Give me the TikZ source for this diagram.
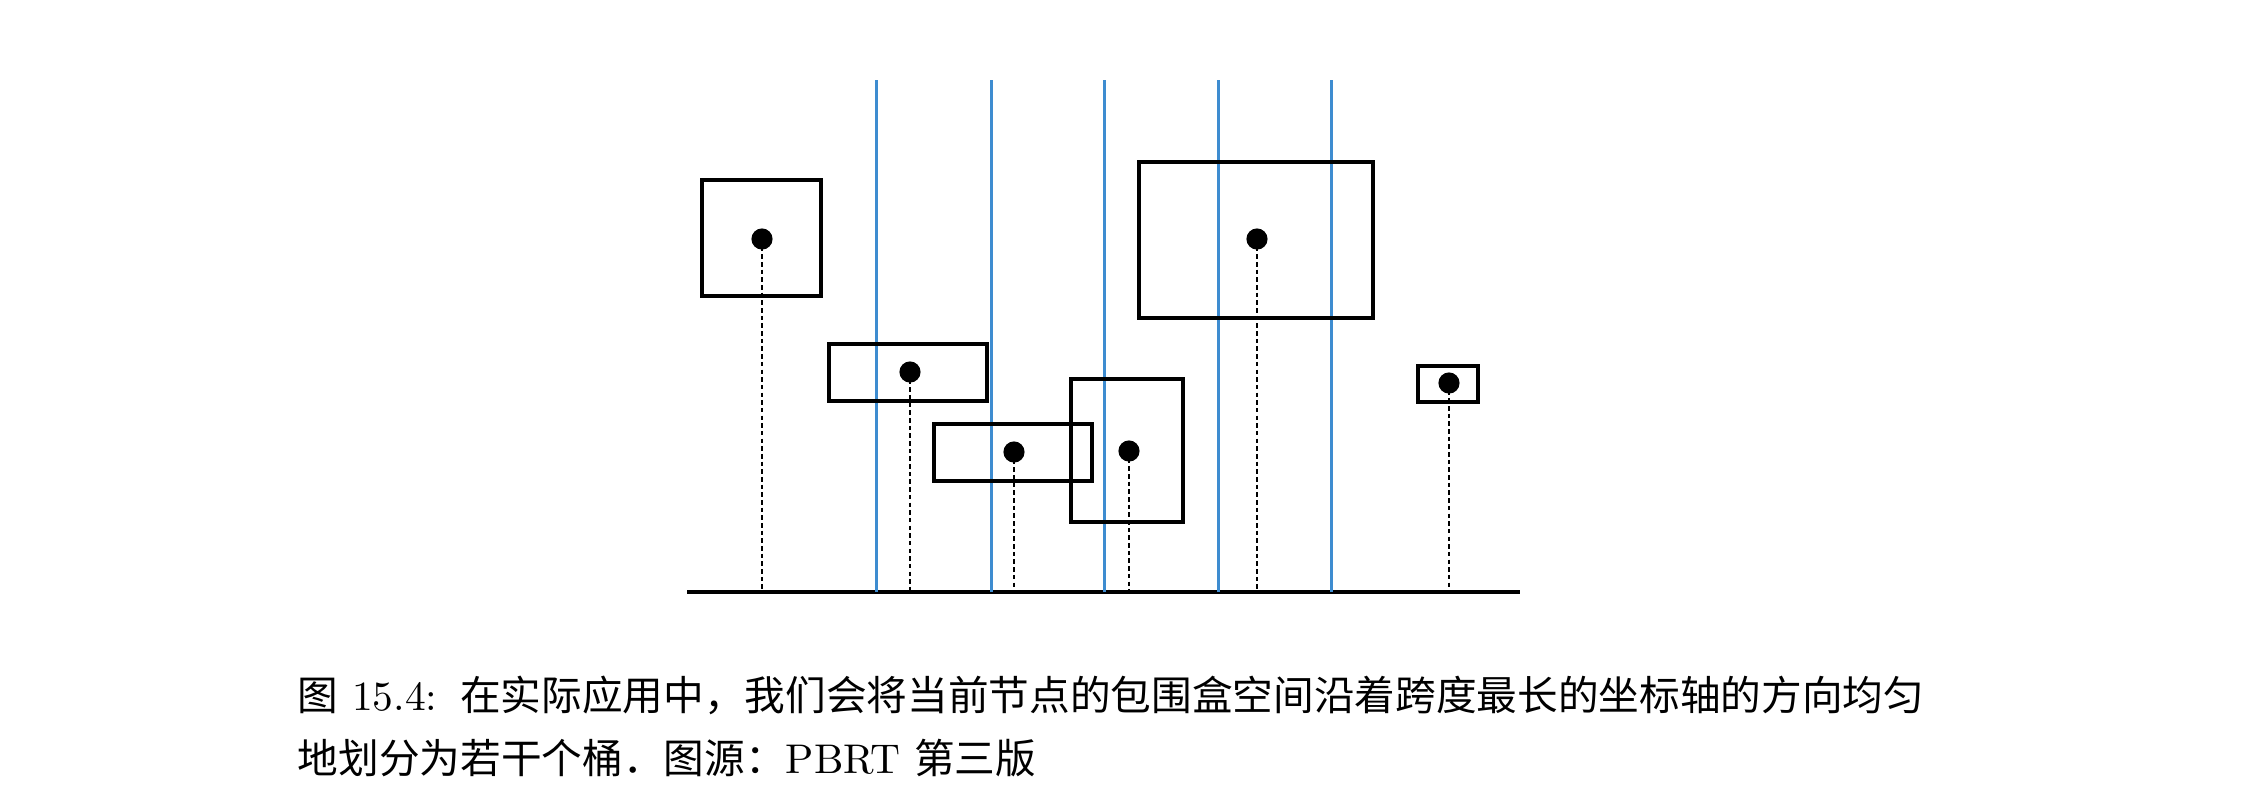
\documentclass[tikz,border=0pt]{standalone}
\usepackage{fontspec}
\newfontfamily\cjk{Noto Sans CJK SC}
\definecolor{splitblue}{RGB}{62,140,208}
\begin{document}
\begin{tikzpicture}[x=0.241pt,y=-0.241pt,
  bbox/.style={draw=black,line width=0.75pt},
  splitline/.style={draw=splitblue,line width=0.72pt},
  axisline/.style={draw=black,line width=0.75pt},
  centroid/.style={circle,fill=black,inner sep=0pt,minimum size=5.1pt},
  proj/.style={draw=black,line width=0.7pt,dash pattern=on 1.1pt off 0.75pt},
  captext/.style={anchor=base west,inner sep=0pt,font=\fontsize{9.8pt}{12pt}\selectfont}]
\useasboundingbox (0,0) rectangle (2255,802);
% axis
\coordinate (axL) at (687,592);
\coordinate (axR) at (1520,592);
\draw[axisline] (axL) -- (axR);
% split planes
\foreach \i/\x in {1/876,2/991,3/1104,4/1218,5/1331}{
  \coordinate (bt\i) at (\x,80);
  \coordinate (bb\i) at (\x,592);
  \draw[splitline] (bt\i) -- (bb\i);
}
% bounding boxes
\draw[bbox] (702,180) rectangle (821,296);
\draw[bbox] (829,344) rectangle (987,401);
\draw[bbox] (934,424) rectangle (1092,481);
\draw[bbox] (1071,379) rectangle (1183,522);
\draw[bbox] (1139,162) rectangle (1373,318);
\draw[bbox] (1418,366) rectangle (1478,402);
% centroids
\foreach \n/\x/\y in {c1/762/239, c2/910/372, c3/1014/452, c4/1129/451, c5/1257/239, c6/1449/383}{
  \node[centroid] (\n) at (\x,\y) {};
  \coordinate (\n a) at (\x,592);
  \draw[proj] (\n.center) -- (\n a);
}
% caption
\node[captext] (cap1) at (297,710) {{\cjk 图}\ {\fontsize{10pt}{12pt}\selectfont 15.4:}\hspace{5.5pt}{\cjk 在实际应用中，我们会将当前节点的包围盒空间沿着跨度最长的坐标轴的方向均匀}};
\node[captext] (cap2) at (297,773) {{\cjk 地划分为若干个桶．图源：}{\fontsize{10pt}{12pt}\selectfont PBRT} {\cjk 第三版}};
\end{tikzpicture}
\end{document}
